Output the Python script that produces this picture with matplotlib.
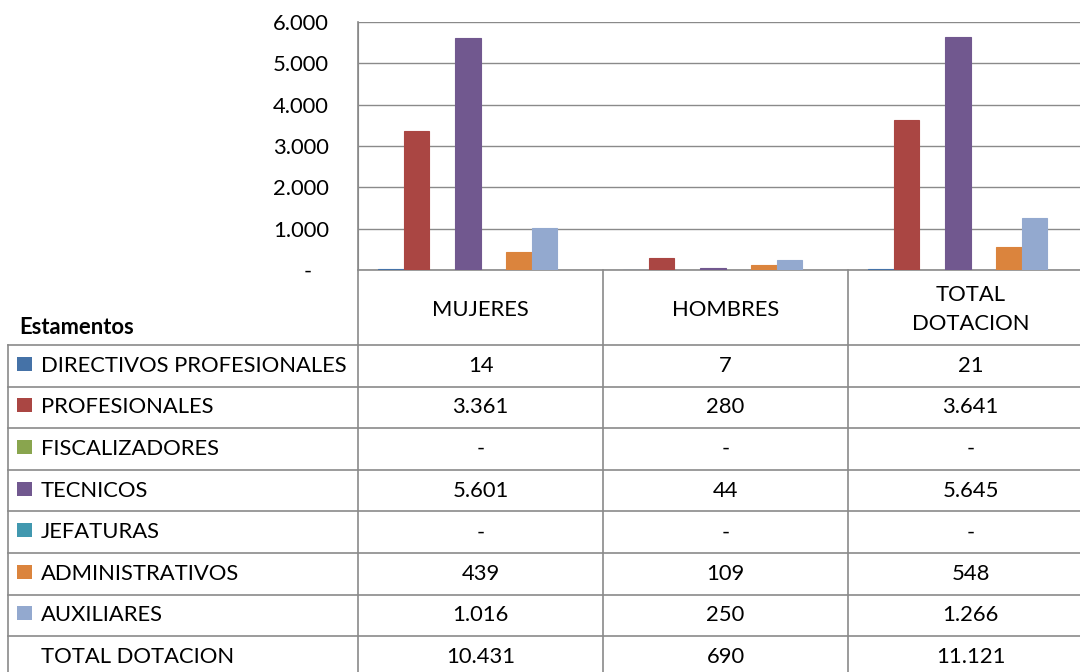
import matplotlib
matplotlib.use("Agg")
import matplotlib.pyplot as plt
from matplotlib.ticker import FuncFormatter, FixedLocator
from matplotlib.patches import Rectangle

plt.rcParams['font.family'] = ['Lato', 'DejaVu Sans']

categories = ["MUJERES", "HOMBRES", "TOTAL\nDOTACION"]
series_names = ["DIRECTIVOS PROFESIONALES", "PROFESIONALES", "FISCALIZADORES",
                "TECNICOS", "JEFATURAS", "ADMINISTRATIVOS", "AUXILIARES"]
values = [
    [14, 7, 21],
    [3361, 280, 3641],
    [0, 0, 0],
    [5601, 44, 5645],
    [0, 0, 0],
    [439, 109, 548],
    [1016, 250, 1266],
]
total_name = "TOTAL DOTACION"
totals = [10431, 690, 11121]
colors = ["#4572A7", "#AA4643", "#89A54E", "#71588F", "#4198AF", "#DB843D", "#93A9CF"]
yticks = [0, 1000, 2000, 3000, 4000, 5000, 6000]

W, H = 1080, 672
fig = plt.figure(figsize=(W / 100, H / 100), dpi=100)

def fmt(v):
    if v == 0:
        return "-"
    return f"{int(v):,}".replace(",", ".")

grid_c = "#8a8a8a"
FS = 15.8

# ---- chart axes (pixel layout) ----
x0, ytop, ybot = 358, 22, 270
catw = 245
ax = fig.add_axes([x0 / W, 1 - ybot / H, 3 * catw / W, (ybot - ytop) / H])
ax.set_xlim(0, 3)
ax.set_ylim(0, 6000)
nslots = len(series_names) + 1
gap = 20 / 245
bw = (1 - 2 * gap) / nslots
for i, (name, vals) in enumerate(zip(series_names, values)):
    xs = [c + gap + bw * i for c in range(3)]
    ax.bar(xs, vals, width=bw, align='edge', color=colors[i], edgecolor=colors[i],
           linewidth=0.8 if max(vals) > 0 else 0, zorder=3)
ax.yaxis.set_major_locator(FixedLocator(yticks))
ax.yaxis.set_major_formatter(FuncFormatter(lambda v, p: fmt(v) + ("   " if v == 0 else "")))
ax.grid(axis='y', color=grid_c, lw=1, zorder=0)
ax.set_xticks([])
ax.tick_params(axis='y', length=0, pad=21, labelsize=FS, labelcolor="black")
for s in ['top', 'right', 'bottom']:
    ax.spines[s].set_visible(False)
ax.spines['left'].set_color(grid_c)
ax.set_facecolor('none')

# ---- table overlay ----
tx = fig.add_axes([0, 0, 1, 1])
tx.set_xlim(0, W)
tx.set_ylim(H, 0)
tx.axis('off')
tx.set_zorder(-1)

row_top = 345
row_h = 41.6
nrows = len(series_names) + 1
col_edges = [x0 + catw * k for k in range(4)]
lc = "#8a8a8a"
# horizontal lines
tx.plot([x0, W], [ybot, ybot], color=lc, lw=1.2)
for r in range(nrows + 1):
    y = row_top + r * row_h
    tx.plot([8, W], [y, y], color=lc, lw=1.2)
# vertical lines
tx.plot([8, 8], [row_top, H], color=lc, lw=1.2)
tx.plot([x0, x0], [ytop, H], color=lc, lw=1.2)
for xe in col_edges[1:]:
    tx.plot([xe, xe], [ybot, H], color=lc, lw=1.2)

# header
for k, c in enumerate(categories):
    tx.text(x0 + catw * (k + 0.5), (ybot + row_top) / 2 + 2, c, ha='center', va='center',
            fontsize=FS, linespacing=1.6)
tx.text(19, 327, "Estamentos", ha='left', va='center', fontsize=FS, fontweight='bold')

# rows
names = series_names + [total_name]
rowvals = values + [totals]
for r, (n, vals) in enumerate(zip(names, rowvals)):
    yc = row_top + (r + 0.5) * row_h
    if r < len(series_names):
        tx.add_patch(Rectangle((17, yc - 9), 15, 14, color=colors[r], lw=0))
    tx.text(41, yc, n, ha='left', va='center', fontsize=FS)
    for k, v in enumerate(vals):
        tx.text(x0 + catw * (k + 0.5), yc, fmt(v), ha='center', va='center', fontsize=FS)

fig.savefig("out.png", dpi=100)
